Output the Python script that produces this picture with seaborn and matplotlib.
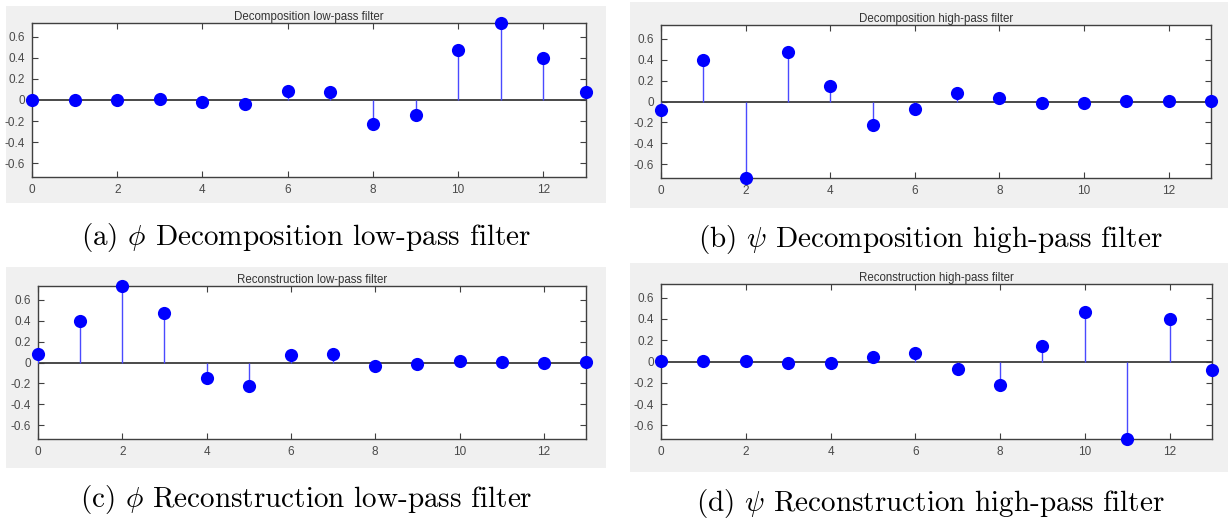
import numpy as np
import pandas as pd
import matplotlib
matplotlib.use("Agg")
import matplotlib.pyplot as plt
from matplotlib.patches import Rectangle
import seaborn as sns

# ---- data (db7 style filter coefficients) ----
index = list(range(14))
dec_lo = [0.0004, -0.0018, 0.0004, 0.0126, -0.0166, -0.0380, 0.0806, 0.0713,
          -0.2240, -0.1439, 0.4698, 0.7291, 0.3965, 0.0779]
dec_hi = [-0.0779, 0.3965, -0.7291, 0.4698, 0.1439, -0.2240, -0.0713, 0.0806,
          0.0380, -0.0166, -0.0126, 0.0004, 0.0018, 0.0004]
rec_lo = [0.0779, 0.3965, 0.7291, 0.4698, -0.1439, -0.2240, 0.0713, 0.0806,
          -0.0380, -0.0166, 0.0126, 0.0004, -0.0018, 0.0004]
rec_hi = [0.0004, 0.0018, 0.0004, -0.0126, -0.0166, 0.0380, 0.0806, -0.0713,
          -0.2240, 0.1439, 0.4698, -0.7291, 0.3965, -0.0779]
titles = ["Decomposition low-pass filter", "Decomposition high-pass filter",
          "Reconstruction low-pass filter", "Reconstruction high-pass filter"]
captions = [r"(a) $\phi$ Decomposition low-pass filter",
            r"(b) $\psi$ Decomposition high-pass filter",
            r"(c) $\phi$ Reconstruction low-pass filter",
            r"(d) $\psi$ Reconstruction high-pass filter"]
x_ticks = [0, 2, 4, 6, 8, 10, 12]
y_ticks = [-0.6, -0.4, -0.2, 0, 0.2, 0.4, 0.6]
y_tick_labels = ["-0.6", "-0.4", "-0.2", "0", "0.2", "0.4", "0.6"]
x_tick_labels = ["0", "2", "4", "6", "8", "10", "12"]

sns.set_style("white")
plt.rcParams["font.family"] = ["Liberation Sans", "DejaVu Sans"]
plt.rcParams["mathtext.fontset"] = "cm"
plt.rcParams["axes.unicode_minus"] = False

W, H = 1228, 523
fig = plt.figure(figsize=(W / 100, H / 100), dpi=100)
fig.patch.set_facecolor("white")

def fx(px):
    return px / W

def fy(py):
    return 1 - py / H

# panel layout in pixels: grey (x0,y0,x1,y1), axes (x0,y0,x1,y1), caption (x,y)
panels = [
    ((6, 6, 606, 203), (32, 23, 586, 177), (306, 237)),
    ((630, 2, 1228, 208), (661, 25, 1211, 178), (930, 240)),
    ((6, 267, 606, 468), (38, 286, 586, 439), (306, 500)),
    ((630, 263, 1228, 472), (661, 284, 1212, 439), (930, 503)),
]
series = [dec_lo, dec_hi, rec_lo, rec_hi]
ymax = max(abs(v) for v in dec_lo)

for (g, a, c), vals, title, cap in zip(panels, series, titles, captions):
    rect = Rectangle((fx(g[0]), fy(g[3])), fx(g[2] - g[0]), (g[3] - g[1]) / H,
                     transform=fig.transFigure, facecolor="#f0f0f0",
                     edgecolor="none", zorder=-10)
    fig.add_artist(rect)
    ax = fig.add_axes([fx(a[0]), fy(a[3]), fx(a[2] - a[0]), (a[3] - a[1]) / H])
    ax.set_zorder(5)
    ax.set_facecolor("white")
    df = pd.DataFrame({"n": index, "h": vals})
    ax.axhline(0, color="#3a3a3a", lw=1.3, zorder=2)
    ax.vlines(df["n"], 0, df["h"], color="#4a4aff", lw=1.0, zorder=3)
    sns.scatterplot(data=df, x="n", y="h", ax=ax, color="#0000ff", s=90,
                    edgecolor="#0000ff", linewidth=0, zorder=4, clip_on=False,
                    legend=False)
    ax.set_xlim(0, 13)
    ax.set_ylim(-ymax, ymax)
    ax.set_xticks(x_ticks)
    ax.set_xticklabels(x_tick_labels)
    ax.set_yticks(y_ticks)
    ax.set_yticklabels(y_tick_labels)
    ax.set_xlabel("")
    ax.set_ylabel("")
    ax.tick_params(direction="in", length=4, width=0.8, colors="#404040",
                   labelcolor="#4a4a4a", labelsize=8.5,
                   bottom=True, left=True, top=True, right=True, pad=5)
    for sp in ax.spines.values():
        sp.set_visible(True)
        sp.set_color("#404040")
        sp.set_linewidth(1.0)
    ax.set_title(title, fontsize=8.3, color="#333333", pad=2)
    fig.text(fx(c[0]), fy(c[1]), cap, fontsize=21, family="cmr10",
             ha="center", va="center", color="black")

fig.savefig("out.png", dpi=100)
